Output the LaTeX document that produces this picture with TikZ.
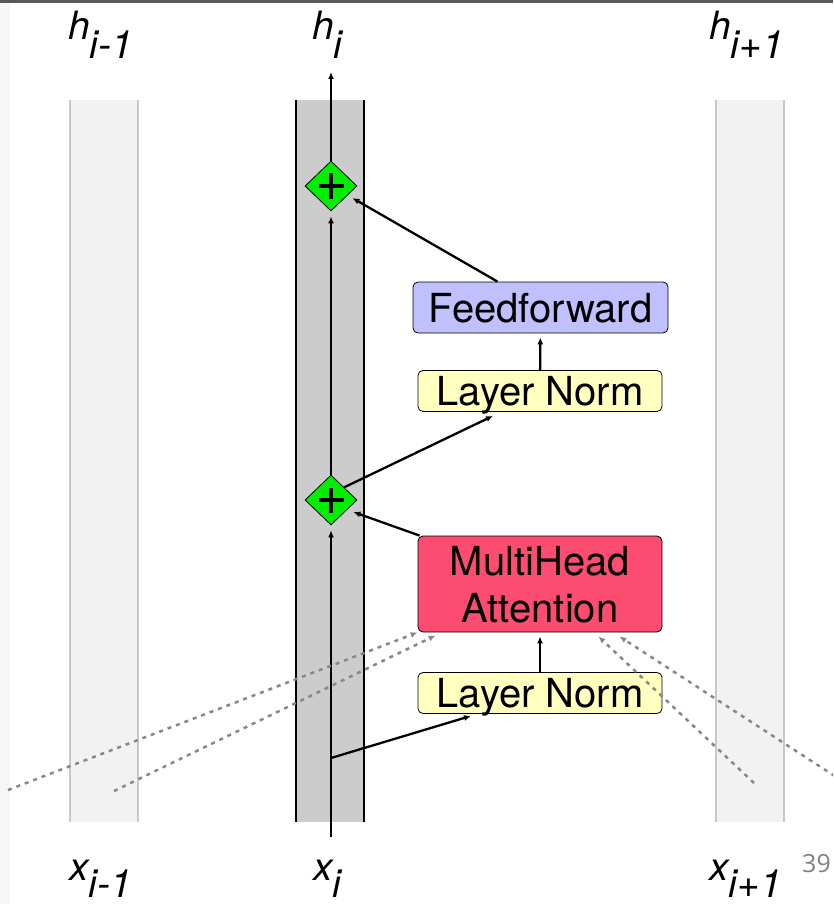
\documentclass[tikz,border=0pt]{standalone}
\usepackage{fontspec}
\setmainfont{TeX Gyre Heros}
\newfontfamily\pagefont{Open Sans}
\usetikzlibrary{calc,shapes.geometric,arrows.meta}
\definecolor{colshade}{HTML}{F2F2F2}
\definecolor{colrule}{HTML}{C8C8C8}
\definecolor{midshade}{HTML}{CCCCCC}
\definecolor{addgreen}{HTML}{00EE00}
\definecolor{ffblue}{HTML}{C0C0FF}
\definecolor{lnyellow}{HTML}{FFFFC0}
\definecolor{attred}{HTML}{FC4C70}
\definecolor{peekgray}{HTML}{888888}

\begin{document}
\begin{tikzpicture}[x=1pt,y=-1pt]
	\tikzset{>={Latex[length=7pt,width=6pt]}}
	\tikzset{
		block/.style={draw,line width=0.8pt,rounded corners=5pt,inner sep=0pt,text depth=0pt,
			minimum width=244pt,font=\fontsize{40}{47}\selectfont},
		addnode/.style={diamond,draw,fill=addgreen,line width=0.8pt,inner sep=0pt,
			minimum width=52pt,minimum height=50pt,
			path picture={\draw[line width=3.5pt]
				([xshift=-12.5pt]path picture bounding box.center) -- ([xshift=12.5pt]path picture bounding box.center)
				([yshift=-12.5pt]path picture bounding box.center) -- ([yshift=12.5pt]path picture bounding box.center);}},
		flow/.style={->,line width=2.3pt},
		peek/.style={->,line width=2.5pt,peekgray,dash pattern=on 4pt off 5pt},
		tag/.style={anchor=base west,inner sep=0pt,font=\fontsize{39}{39}\selectfont\itshape}
	}
	
	\clip (0,0) rectangle (833,904);
	\fill[white] (0,0) rectangle (833,904);
	\fill[gray!7] (0,0) rectangle (10,904);
	\fill[black!65] (0,0) rectangle (833,3);
	
	\fill[colshade] (70,100) rectangle (138,822);
	\draw[colrule,line width=2pt] (70,100) -- (70,822) (138,100) -- (138,822);
	\fill[colshade] (716,100) rectangle (784,822);
	\draw[colrule,line width=2pt] (716,100) -- (716,822) (784,100) -- (784,822);
	\fill[midshade] (296,100) rectangle (364,822);
	\draw[line width=2pt] (296,100) -- (296,822) (364,100) -- (364,822);
	
	\node[addnode] (plus2) at (331,186) {};
	\node[addnode] (plus1) at (331,500) {};
	\node[block,fill=ffblue,minimum width=255pt,minimum height=51pt] (ff) at (540.5,307.5) {Feedforward};
	\node[block,fill=lnyellow,minimum height=41pt] (ln1) at (540,391) {Layer Norm};
	\node[block,fill=attred,minimum height=96pt,align=center] (mha) at (540,584) {MultiHead\\Attention};
	\node[block,fill=lnyellow,minimum height=41pt] (ln2) at (540,693) {Layer Norm};
	
	\coordinate (bot) at (331,837);
	\coordinate (split) at (331,758);
	\coordinate (top) at (331,72);
	
	\draw[flow,shorten >=5pt] (bot) -- (plus1);
	\draw[flow,shorten >=5pt] (plus1) -- (plus2);
	\draw[flow] (plus2) -- (top);
	\draw[flow] (split) -- ([xshift=-69pt,yshift=-2pt]ln2.south);
	\draw[flow,shorten >=4pt] (ln2) -- (mha);
	\draw[flow] ([xshift=2pt]mha.north west) -- ([xshift=-4pt,yshift=-12pt]plus1.east);
	\draw[flow] (plus1.north east) -- ([xshift=-47pt,yshift=-4pt]ln1.south);
	\draw[flow,shorten >=4pt] (ln1) -- (ff);
	\draw[flow] ([xshift=-43pt]ff.north) -- ([xshift=-5pt,yshift=-12pt]plus2.east);
	
	\coordinate (p1) at (8,790);
	\coordinate (p2) at (114,791);
	\coordinate (p3) at (754,783);
	\coordinate (p4) at (850,786);
	\draw[peek] (p1) -- (mha.south west);
	\draw[peek] (p2) -- ([xshift=18pt,yshift=-3pt]mha.south west);
	\draw[peek] (p3) -- ([xshift=-64pt,yshift=-4pt]mha.south east);
	\draw[peek] (p4) -- ([xshift=-43pt,yshift=-4pt]mha.south east);
	
	\node[tag] (hprev) at (68,40) {h\raisebox{-19pt}{i-1}};
	\node[tag] (hcur) at (312,40) {h\raisebox{-19pt}{i}};
	\node[tag] (hnext) at (709,40) {h\raisebox{-19pt}{i+1}};
	\node[tag] (xprev) at (69,880) {x\raisebox{-17pt}{i-1}};
	\node[tag] (xcur) at (313,880) {x\raisebox{-17pt}{i}};
	\node[tag] (xnext) at (709,880) {x\raisebox{-17pt}{i+1}};
	\node[anchor=base west,inner sep=0pt,text=gray,font=\pagefont\fontsize{25}{25}\selectfont] (pg) at (802,872) {39};
	
\end{tikzpicture}
\end{document}
